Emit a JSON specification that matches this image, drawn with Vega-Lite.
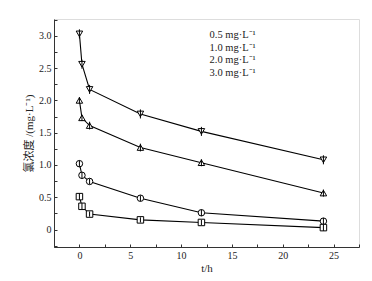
{
  "$schema": "https://vega.github.io/schema/vega-lite/v6.json",
  "padding": {"left": 23, "top": 18, "right": 5, "bottom": 5},
  "data": {"values": [
    {"s": "0.5 mg·L⁻¹", "t": 0, "c": 0.51, "lo": 0.46, "hi": 0.56},
    {"s": "0.5 mg·L⁻¹", "t": 0.25, "c": 0.36, "lo": 0.31, "hi": 0.41},
    {"s": "0.5 mg·L⁻¹", "t": 1, "c": 0.24, "lo": 0.2, "hi": 0.28},
    {"s": "0.5 mg·L⁻¹", "t": 6, "c": 0.15, "lo": 0.11, "hi": 0.19},
    {"s": "0.5 mg·L⁻¹", "t": 12, "c": 0.11, "lo": 0.07, "hi": 0.15},
    {"s": "0.5 mg·L⁻¹", "t": 24, "c": 0.03, "lo": -0.02, "hi": 0.08},
    {"s": "1.0 mg·L⁻¹", "t": 0, "c": 1.02, "lo": 0.97, "hi": 1.07},
    {"s": "1.0 mg·L⁻¹", "t": 0.25, "c": 0.84, "lo": 0.79, "hi": 0.89},
    {"s": "1.0 mg·L⁻¹", "t": 1, "c": 0.745, "lo": 0.7, "hi": 0.79},
    {"s": "1.0 mg·L⁻¹", "t": 6, "c": 0.485, "lo": 0.44, "hi": 0.53},
    {"s": "1.0 mg·L⁻¹", "t": 12, "c": 0.26, "lo": 0.21, "hi": 0.31},
    {"s": "1.0 mg·L⁻¹", "t": 24, "c": 0.13, "lo": 0.08, "hi": 0.18},
    {"s": "2.0 mg·L⁻¹", "t": 0, "c": 2.0, "lo": 1.95, "hi": 2.05},
    {"s": "2.0 mg·L⁻¹", "t": 0.25, "c": 1.73, "lo": 1.68, "hi": 1.78},
    {"s": "2.0 mg·L⁻¹", "t": 1, "c": 1.61, "lo": 1.55, "hi": 1.67},
    {"s": "2.0 mg·L⁻¹", "t": 6, "c": 1.27, "lo": 1.21, "hi": 1.33},
    {"s": "2.0 mg·L⁻¹", "t": 12, "c": 1.035, "lo": 0.98, "hi": 1.09},
    {"s": "2.0 mg·L⁻¹", "t": 24, "c": 0.565, "lo": 0.51, "hi": 0.62},
    {"s": "3.0 mg·L⁻¹", "t": 0, "c": 3.03, "lo": 2.96, "hi": 3.1},
    {"s": "3.0 mg·L⁻¹", "t": 0.25, "c": 2.56, "lo": 2.49, "hi": 2.63},
    {"s": "3.0 mg·L⁻¹", "t": 1, "c": 2.17, "lo": 2.1, "hi": 2.24},
    {"s": "3.0 mg·L⁻¹", "t": 6, "c": 1.79, "lo": 1.72, "hi": 1.86},
    {"s": "3.0 mg·L⁻¹", "t": 12, "c": 1.52, "lo": 1.45, "hi": 1.59},
    {"s": "3.0 mg·L⁻¹", "t": 24, "c": 1.08, "lo": 1.01, "hi": 1.15}
  ]},
  "hconcat": [
    {
      "width": 305,
      "height": 228,
      "encoding": {
        "x": {"field": "t", "type": "quantitative",
          "scale": {"domain": [-2.5, 27.5], "nice": false, "zero": false},
          "axis": {"title": "t/h", "titleFont": "Liberation Serif", "titleFontSize": 11, "titleFontWeight": "normal", "titleColor": "#222", "titlePadding": 2,
            "grid": false, "domainColor": "#333", "tickColor": "#333", "tickSize": -3,
            "labelFont": "Liberation Serif", "labelFontSize": 10, "labelColor": "#222",
            "values": [-2.5, 0, 2.5, 5, 7.5, 10, 12.5, 15, 17.5, 20, 22.5, 25, 27.5],
            "labelExpr": "datum.value % 5 === 0 ? datum.value : ''",
            "labelPadding": 6}},
        "y": {"field": "c", "type": "quantitative",
          "scale": {"domain": [-0.27, 3.26], "nice": false, "zero": false},
          "axis": {"title": "氯浓度 /(mg·L⁻¹)", "titleFont": "Liberation Serif, Noto Sans CJK SC", "titleFontSize": 11, "titleFontWeight": "normal", "titleColor": "#222", "titlePadding": 4,
            "grid": false, "domainColor": "#333", "tickColor": "#333", "tickSize": -3,
            "labelFont": "Liberation Serif", "labelFontSize": 10, "labelColor": "#222",
            "values": [-0.25, 0, 0.25, 0.5, 0.75, 1, 1.25, 1.5, 1.75, 2, 2.25, 2.5, 2.75, 3, 3.25],
            "labelExpr": "datum.value % 0.5 === 0 ? (datum.value === 0 ? '0' : format(datum.value, '.1f')) : ''",
            "labelPadding": 6}}
      },
      "layer": [
        {"mark": {"type": "line", "color": "black", "strokeWidth": 1.1},
         "encoding": {"detail": {"field": "s", "type": "nominal"}}},
        {"mark": {"type": "point", "filled": true, "fill": "white", "stroke": "black", "strokeWidth": 1, "size": 42, "opacity": 1},
         "encoding": {"shape": {"field": "s", "type": "nominal",
            "scale": {"range": ["square", "circle", "triangle-up", "triangle-down"]},
            "legend": {"title": null, "orient": "none", "legendX": 139, "legendY": 11, "padding": 0,
              "symbolSize": 36, "symbolStrokeWidth": 1, "symbolStrokeColor": "black", "symbolFillColor": "white",
              "labelOffset": 6, "labelFont": "Liberation Serif", "labelFontSize": 10.5, "labelColor": "#222", "rowPadding": 1.5,
              "encode": {"symbols": {"update": {
                "shape": {"signal": "indexof(datum.value, '0.5') === 0 ? 'M-2.9,0H-0.9M0.9,0H2.9M-0.9,-0.9H0.9V0.9H-0.9Z' : indexof(datum.value, '1.0') === 0 ? 'M-2.9,0H-1M1,0H2.9M-1,0A1,1 0 1,1 1,0A1,1 0 1,1 -1,0Z' : indexof(datum.value, '2.0') === 0 ? 'M-2.9,0.3H-0.8M0.8,0.3H2.9M0,-1L1.1,0.9H-1.1Z' : 'M-2.9,-0.3H-0.8M0.8,-0.3H2.9M0,1L1.1,-0.9H-1.1Z'"}}}}
            }}}},
        {"mark": {"type": "rule", "color": "black", "strokeWidth": 1},
         "encoding": {"y": {"field": "lo", "type": "quantitative"}, "y2": {"field": "hi"}}}
      ]
    }
  ]
}
